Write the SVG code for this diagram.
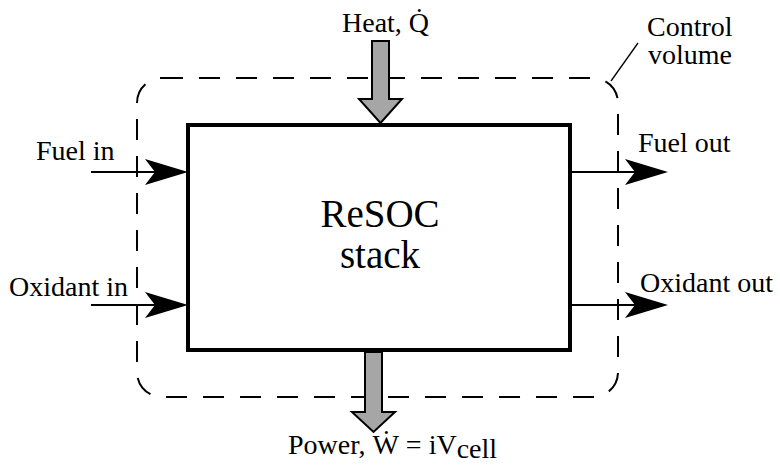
<svg xmlns="http://www.w3.org/2000/svg" width="780" height="465" viewBox="0 0 780 465">
<style>
text{font-family:"Liberation Serif","Times New Roman",serif;fill:#000;font-size:28px}
.big{font-size:39px}
.flow{stroke:#000;stroke-width:2;fill:none}
.head{fill:#000;stroke:none}
.big-arrow{fill:#a6a6a6;stroke:#000;stroke-width:2;stroke-linejoin:miter}
.cv{fill:none;stroke:#000;stroke-width:2;stroke-dasharray:21 16}
</style>
<defs>
<path id="ah" d="M0,0 L-43,-13 L-33,0 L-43,13 Z"/>
</defs>
<g id="control-volume">
<rect class="cv" x="137" y="78" width="481" height="319" rx="25" ry="25"/>
<line x1="638" y1="43" x2="611" y2="81" stroke="#000" stroke-width="1.3"/>
<text x="647" y="36">Control</text>
<text x="648" y="64">volume</text>
</g>
<g id="stack">
<rect x="188" y="125" width="382" height="225" fill="#fff" stroke="#000" stroke-width="4"/>
<text class="big" x="380" y="227" text-anchor="middle">ReSOC</text>
<text class="big" x="380" y="268" text-anchor="middle">stack</text>
</g>
<g id="connectors">
<g id="fuel-in">
<line class="flow" x1="91" y1="172" x2="160" y2="172"/>
<use href="#ah" class="head" transform="translate(188,172)"/>
<text x="36" y="160">Fuel in</text>
</g>
<g id="oxidant-in">
<line class="flow" x1="91" y1="305" x2="160" y2="305"/>
<use href="#ah" class="head" transform="translate(188,305)"/>
<text x="9" y="296">Oxidant in</text>
</g>
<g id="fuel-out">
<line class="flow" x1="570" y1="172" x2="640" y2="172"/>
<use href="#ah" class="head" transform="translate(668,172)"/>
<text x="638" y="152">Fuel out</text>
</g>
<g id="oxidant-out">
<line class="flow" x1="570" y1="305" x2="640" y2="305"/>
<use href="#ah" class="head" transform="translate(668,305)"/>
<text x="640" y="292">Oxidant out</text>
</g>
<g id="heat">
<path class="big-arrow" d="M372,41 L389,41 L389,99 L402,99 L380.5,123 L359,99 L372,99 Z"/>
<text x="342" y="32">Heat, Q̇</text>
</g>
<g id="power">
<path class="big-arrow" d="M365,352 L382,352 L382,412 L395,412 L373.5,432 L352,412 L365,412 Z"/>
<text x="288" y="454">Power, Ẇ = iV<tspan dy="4">cell</tspan></text>
</g>
</g>
</svg>
